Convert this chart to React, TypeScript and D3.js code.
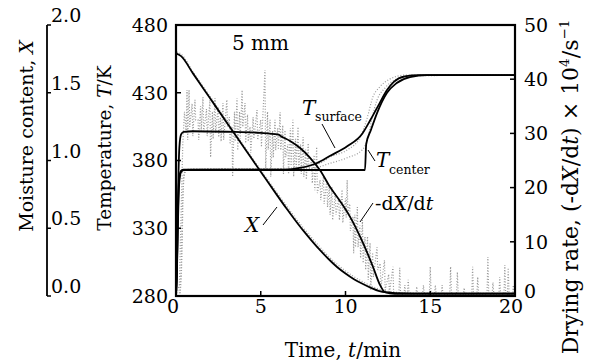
import React from 'react';
import * as d3 from 'd3';

// ---------- data ----------
const timeTicks = [0, 5, 10, 15, 20];
const tempTicks = [280, 330, 380, 430, 480];
const rateTicks = [0, 10, 20, 30, 40, 50];
const moistTicks = [0, 0.5, 1.0, 1.5, 2.0];

// model: moisture content X
const modelXT = [0, 0.3, 1, 2, 3, 4, 5, 6, 6.5, 7, 7.5, 8, 8.5, 9, 9.5, 10, 10.5, 11, 11.5, 12, 12.5, 13, 14, 16, 20];
const modelX = [1.79, 1.77, 1.643, 1.461, 1.279, 1.098, 0.917, 0.737, 0.649, 0.565, 0.484, 0.409, 0.338, 0.273, 0.214, 0.166, 0.124, 0.09, 0.06, 0.036, 0.026, 0.021, 0.02, 0.02, 0.02];

// experimental moisture content (gray dotted)
const expXT = [0.05, 0.3, 1, 2, 3, 4, 5, 6, 6.5, 7, 7.5, 8, 8.5, 9, 9.5, 10, 10.5, 11, 11.5, 12, 12.5, 13, 14, 16, 18, 20];
const expX = [1.8, 1.785, 1.655, 1.475, 1.29, 1.11, 0.93, 0.755, 0.67, 0.585, 0.505, 0.43, 0.36, 0.293, 0.235, 0.185, 0.143, 0.106, 0.075, 0.05, 0.035, 0.027, 0.022, 0.02, 0.02, 0.02];

// model: drying rate (-dX/dt) x 10^4 /s
const modelRateT = [0, 0.05, 0.1, 0.15, 0.2, 0.3, 0.45, 1, 3, 5, 6, 6.3, 6.73, 7.32, 7.91, 8.5, 9.09, 9.68, 10.27, 11.03, 11.62, 12.04, 12.33, 12.9, 14, 20];
const modelRate = [0, 4, 14, 23, 27.5, 29.8, 30.3, 30.4, 30.3, 30.1, 29.8, 29.3, 28.6, 27.3, 25.5, 23.2, 20.1, 17.5, 14.6, 9.8, 5.4, 2.0, 0.7, 0.4, 0.4, 0.4];

// experimental drying rate: noisy streaks (time, high, low)
const streakT = [0.65, 0.77, 0.95, 1.12, 1.3, 1.45, 1.59, 1.8, 2.0, 2.15, 2.3, 2.48, 2.62, 2.77, 3.0, 3.15, 3.3, 3.45, 3.6, 3.75, 3.9, 4.07, 4.22, 4.37, 4.55, 4.78, 5.0, 5.25, 5.4, 5.55, 5.7, 5.84, 6.0, 6.14, 6.3, 6.43, 6.6, 6.75, 6.9, 7.05, 7.2, 7.35, 7.5, 7.65, 7.8, 8.0, 8.15, 8.3, 8.5, 8.7, 8.9, 9.05, 9.2, 9.4, 9.6, 9.8, 10.0, 10.1, 10.25, 10.44, 10.55, 10.7, 10.85, 11.0, 11.15, 11.3, 11.45, 11.6, 11.86, 12.05, 12.3, 12.55, 12.8];
const streakHigh = [38.0, 38.0, 35.5, 36.2, 32.5, 35.0, 36.7, 34.5, 36.2, 34.0, 36.5, 34.9, 33.0, 35.6, 36.2, 33.0, 31.2, 34.0, 36.5, 34.0, 38.0, 35.6, 33.5, 31.2, 33.0, 34.3, 32.5, 41.7, 34.0, 32.5, 30.5, 32.5, 31.0, 33.9, 31.5, 30.6, 28.0, 31.0, 32.5, 29.0, 31.2, 28.0, 29.3, 27.0, 28.2, 25.1, 26.0, 27.5, 21.4, 22.0, 21.4, 20.5, 20.1, 19.0, 18.0, 19.6, 18.0, 21.4, 17.0, 14.6, 15.0, 16.4, 13.0, 14.0, 10.9, 11.0, 9.8, 8.0, 9.0, 6.0, 6.6, 4.0, 5.4];
const streakLow = [28.8, 31.2, 29.5, 32.5, 28.8, 30.5, 30.1, 29.5, 25.6, 29.0, 30.1, 29.3, 28.5, 28.8, 31.2, 28.0, 22.0, 28.5, 26.9, 29.0, 31.2, 28.2, 28.5, 26.4, 29.0, 28.8, 27.5, 23.2, 27.0, 22.0, 25.5, 26.9, 27.0, 26.9, 22.5, 25.6, 22.5, 24.0, 22.0, 23.5, 23.2, 22.5, 22.0, 21.5, 23.2, 20.8, 19.5, 19.0, 17.7, 17.0, 16.4, 15.0, 14.0, 15.0, 14.0, 13.5, 14.5, 15.3, 12.0, 7.9, 9.0, 9.0, 7.0, 6.1, 4.8, 3.0, 1.1, 3.5, 4.8, 1.5, 1.1, 0.5, 0.5];
// experimental drying rate start-up (time, value)
const expRiseT = [0, 0.2, 0.3, 0.4, 0.5, 0.6];
const expRise = [0, 2, 15, 28, 34, 30];
// experimental drying rate spikes in falling tail (time, peak)
const spikeT = [13.2, 13.5, 13.7, 14.2, 14.6, 15.0, 15.3, 15.7, 16.2, 16.6, 17.0, 17.5, 17.8, 18.4, 18.7, 19.1, 19.4, 19.6, 19.9];
const spikePeak = [5.2, 2.0, 3.0, 1.7, 2.0, 5.4, 2.0, 2.0, 5.4, 4.4, 1.5, 5.4, 3.5, 7.2, 2.5, 3.5, 5.7, 5.2, 2.0];
const spikeBase = 0.3;

// model temperatures
const tSurfT = [0, 0.05, 0.1, 0.15, 0.2, 0.3, 0.45, 6.5, 7.3, 8.3, 9.1, 10.1, 11.0, 11.45, 12.0, 12.45, 12.85, 13.5, 14.3, 20];
const tSurf = [282, 300, 335, 358, 368, 372.5, 373.2, 373.3, 374.5, 378, 383.5, 390.5, 400, 409.5, 422, 432, 438, 442, 443, 443];
const tCentT = [0, 0.05, 0.1, 0.15, 0.2, 0.3, 0.45, 11.15, 11.22, 11.5, 11.86, 12.45, 13.0, 13.8, 14.8, 20];
const tCent = [282, 295, 325, 352, 365, 371.5, 373, 373, 392, 402.5, 415, 430, 437, 441.6, 443, 443];

// experimental temperatures (gray dotted)
const expTsT = [0.2, 0.3, 0.38, 0.45, 0.6, 2, 4, 6, 7, 8.5, 9.1, 10.1, 10.86, 11.27, 11.62, 12.0, 12.6, 13.5, 20];
const expTs = [282, 300, 345, 368, 373.5, 374, 374, 374, 374.5, 378, 382.6, 387.8, 397, 411, 427, 434, 440, 443, 443];
const expTcT = [0.25, 0.35, 0.42, 0.5, 0.7, 3, 6, 8.1, 9.1, 10.1, 11.0, 11.33, 11.56, 11.86, 12.33, 12.9, 13.8, 20];
const expTc = [282, 310, 355, 370, 373.5, 374, 374, 374.5, 378, 382, 388, 397, 411, 424.6, 433.5, 439.4, 442.5, 443];

// ---------- layout ----------
const W = 589;
const H = 364;
const L = 176, R = 515, T = 25, B = 296;
const FONT = "'DejaVu Serif'";

const x = d3.scaleLinear().domain([0, 20]).range([L, R]);
const yT = d3.scaleLinear().domain([280, 480]).range([B, T]);
const yR = d3.scaleLinear().domain([0, 50]).range([B, T]);
const yX = d3.scaleLinear().domain([0, 2]).range([B, T]);

const zip = (a: number[], b: number[]) => a.map((v, i) => [v, b[i]] as [number, number]);

function pathOf(data: [number, number][], ys: d3.ScaleLinear<number, number>, curve: d3.CurveFactory = d3.curveMonotoneX) {
  return d3.line<[number, number]>().x(d => x(d[0])).y(d => ys(d[1])).curve(curve)(data) || '';
}

function expRatePoints(): [number, number][] {
  const pts: [number, number][] = zip(expRiseT, expRise);
  streakT.forEach((t, i) => {
    pts.push([t, streakHigh[i]]);
    pts.push([t + 0.04, streakLow[i]]);
  });
  spikeT.forEach((t, i) => {
    pts.push([t - 0.05, spikeBase]);
    pts.push([t, spikePeak[i]]);
    pts.push([t + 0.05, spikeBase]);
  });
  pts.push([20, spikeBase]);
  return pts;
}

export default function App() {
  const dotted = { fill: 'none', stroke: '#9a9a9a', strokeWidth: 1.2, strokeDasharray: '1 1.8' };
  const solid = { fill: 'none', stroke: '#000', strokeWidth: 1.8 };
  const tickFs = 19;
  const moistAxisX = 47;

  return (
    <svg width={W} height={H} style={{ position: 'absolute', left: 0, top: 0, background: '#fff', fontFamily: FONT }}>
      <rect x={0} y={0} width={W} height={H} fill="#fff" />
      {/* experimental (gray dotted) */}
      <path d={pathOf(expRatePoints(), yR, d3.curveLinear)} {...dotted} />
      <path d={pathOf(zip(expXT, expX), yX)} {...dotted} />
      <path d={pathOf(zip(expTsT, expTs), yT)} {...dotted} />
      <path d={pathOf(zip(expTcT, expTc), yT)} {...dotted} />

      {/* model (solid) */}
      <path d={pathOf(zip(modelXT, modelX), yX)} {...solid} />
      <path d={pathOf(zip(modelRateT, modelRate), yR)} {...solid} />
      <path d={pathOf(zip(tSurfT, tSurf), yT)} {...solid} />
      <path d={pathOf(zip(tCentT, tCent), yT)} {...solid} />

      {/* frame */}
      <rect x={L} y={T} width={R - L} height={B - T} fill="none" stroke="#000" strokeWidth={2.2} />

      {/* bottom ticks */}
      {timeTicks.map(t => (
        <g key={'bt' + t}>
          {t > 0 && t < 20 && <line x1={x(t)} x2={x(t)} y1={B} y2={B - 5} stroke="#000" strokeWidth={1.5} />}
          <text x={x(t) - (t === 0 ? 3 : t === 20 ? 4 : 0)} y={313} fontSize={tickFs} textAnchor="middle">{t}</text>
        </g>
      ))}
      {/* left temperature ticks */}
      {tempTicks.map(v => (
        <g key={'lt' + v}>
          {v > 280 && v < 480 && <line x1={L} x2={L + 5} y1={yT(v)} y2={yT(v)} stroke="#000" strokeWidth={1.5} />}
          <text x={168} y={yT(v)} dy="0.36em" fontSize={tickFs} textAnchor="end">{v}</text>
        </g>
      ))}
      {/* right drying-rate ticks */}
      {rateTicks.map(v => (
        <g key={'rt' + v}>
          {v > 0 && v < 50 && <line x1={R} x2={R - 5} y1={yR(v)} y2={yR(v)} stroke="#000" strokeWidth={1.5} />}
          <text x={524} y={yR(v) - (v === 0 ? 5 : 0)} dy="0.36em" fontSize={tickFs} textAnchor="start">{v}</text>
        </g>
      ))}
      {/* moisture axis */}
      <line x1={moistAxisX} x2={moistAxisX} y1={yX(0)} y2={yX(2)} stroke="#000" strokeWidth={1.8} />
      {moistTicks.map(v => (
        <g key={'mt' + v}>
          <line x1={moistAxisX} x2={moistAxisX + 4} y1={yX(v)} y2={yX(v)} stroke="#000" strokeWidth={1.5} />
          <text x={moistAxisX + 4} y={yX(v) - 3} fontSize={tickFs} textAnchor="start">{v.toFixed(1)}</text>
        </g>
      ))}

      {/* axis titles */}
      <text transform="translate(33,136) rotate(-90)" fontSize={19} textAnchor="middle">
        Moisture content, <tspan fontStyle="italic">X</tspan>
      </text>
      <text transform="translate(111,148) rotate(-90)" fontSize={18.5} textAnchor="middle">
        Temperature, <tspan fontStyle="italic">T</tspan>/K
      </text>
      <text transform="translate(578,187) rotate(-90)" fontSize={22} textAnchor="middle">
        Drying rate, (-d<tspan fontStyle="italic">X</tspan>/d<tspan fontStyle="italic">t</tspan>) × 10<tspan fontSize={13.5} dy={-9}>4</tspan><tspan dy={9}>/s</tspan><tspan fontSize={13.5} dy={-9}>−1</tspan>
      </text>
      <text x={343} y={357} fontSize={20} textAnchor="middle">
        Time, <tspan fontStyle="italic">t</tspan>/min
      </text>

      {/* annotations */}
      <text x={232} y={50} fontSize={20}>5 mm</text>

      <text x={302} y={115} fontSize={20} fontStyle="italic">T</text>
      <text x={315} y={121} fontSize={12.5}>surface</text>
      <line x1={322} y1={124} x2={335} y2={148} stroke="#000" strokeWidth={1} />

      <text x={376} y={167} fontSize={20} fontStyle="italic">T</text>
      <text x={389} y={174} fontSize={12.5}>center</text>
      <line x1={368} y1={150} x2={375} y2={161} stroke="#000" strokeWidth={1} />

      <text x={245} y={232} fontSize={20} fontStyle="italic">X</text>
      <line x1={263} y1={225} x2={277} y2={207} stroke="#000" strokeWidth={1} />

      <text x={375} y={210} fontSize={19}>-d<tspan fontStyle="italic">X</tspan>/d<tspan fontStyle="italic">t</tspan></text>
      <line x1={360} y1={222} x2={373} y2={203} stroke="#000" strokeWidth={1} />
    </svg>
  );
}
